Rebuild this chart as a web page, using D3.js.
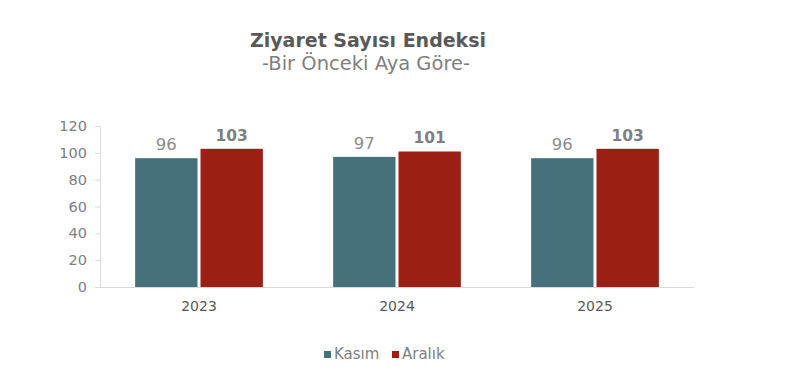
<!DOCTYPE html>
<html><head><meta charset="utf-8">
<script src="https://cdn.jsdelivr.net/npm/d3@7"></script>
<style>body{margin:0;background:#fff}svg{display:block}</style>
</head><body>
<svg id="c" width="800" height="379"></svg>
<script>
const categories = ["2023","2024","2025"];
const seriesNames = ["Kasım","Aralık"];
const kasim = [96,97,96];
const aralik = [103,101,103];
const yTicks = [0,20,40,60,80,100,120];
const colors = ["#46717c","#9c1f14"];

const svg = d3.select("#c");
const font = "'DejaVu Sans', Verdana, sans-serif";
const x = d3.scaleBand().domain(categories).range([100,694]).paddingInner(0.355).paddingOuter(0.1775);
const y = d3.scaleLinear().domain([0,120]).range([287,126]);

svg.append("text").attr("x",368).attr("y",47).attr("text-anchor","middle")
  .attr("font-family",font).attr("font-weight","bold").attr("font-size",19).attr("fill","#595959").text("Ziyaret Sayısı Endeksi");
svg.append("text").attr("x",366).attr("y",70).attr("text-anchor","middle")
  .attr("font-family",font).attr("font-size",19.5).attr("fill","#7f7f7f").text("-Bir Önceki Aya Göre-");

// y axis
const ya = svg.append("g").attr("transform","translate(100,0)").call(d3.axisLeft(y).tickValues(yTicks).tickSize(5).tickPadding(8));
ya.select(".domain").attr("stroke","#d9d9d9").attr("d","M0.5,126.5V287.5");
ya.selectAll(".tick line").attr("stroke","#d9d9d9");
ya.selectAll("text").attr("font-family",font).attr("font-size",14.5).attr("fill","#808080");
// x axis
const xa = svg.append("g").attr("transform","translate(0,287)").call(d3.axisBottom(x).tickSize(0).tickPadding(14));
xa.select(".domain").attr("stroke","#d9d9d9").attr("d","M100,0.5H694");
xa.selectAll("text").attr("font-family",font).attr("font-size",14).attr("fill","#595959");

const gap = 3;
const bw = (x.bandwidth()-gap)/2;
const series = [kasim, aralik];
series.forEach((vals,si)=>{
  const g = svg.append("g");
  g.selectAll("rect").data(vals).join("rect")
    .attr("x",(d,i)=>x(categories[i]) + si*(bw+gap))
    .attr("y",d=>y(d)).attr("width",bw).attr("height",d=>y(0)-y(d))
    .attr("fill",colors[si]);
  g.selectAll("text").data(vals).join("text")
    .attr("x",(d,i)=>x(categories[i]) + si*(bw+gap) + bw/2)
    .attr("y",d=>y(d)-8).attr("text-anchor","middle")
    .attr("font-family",font).attr("font-size",si===1?15.5:16.5)
    .attr("font-weight",si===1?"bold":"normal")
    .attr("fill",si===1?"#7f7f7f":"#8c8c8c").text(d=>d);
});

// legend
const leg = [{x:324,name:seriesNames[0],c:colors[0]},{x:392,name:seriesNames[1],c:colors[1]}];
leg.forEach(l=>{
  svg.append("rect").attr("x",l.x).attr("y",351).attr("width",7).attr("height",7).attr("fill",l.c);
  svg.append("text").attr("x",l.x+10).attr("y",359).attr("font-family",font).attr("font-size",15).attr("fill","#7f7f7f").text(l.name);
});
</script>
</body></html>
